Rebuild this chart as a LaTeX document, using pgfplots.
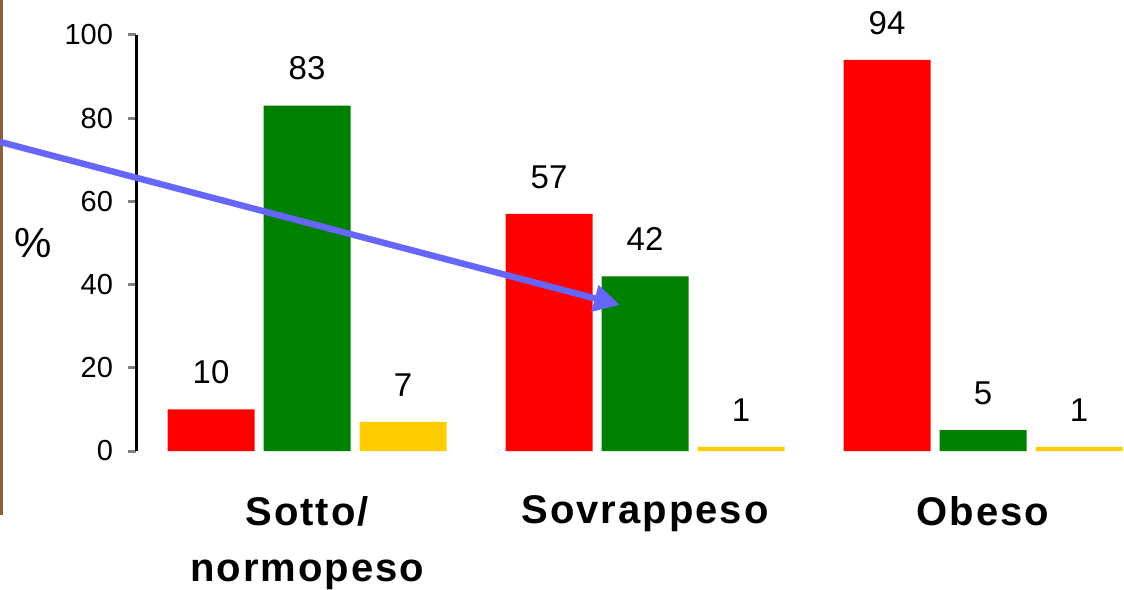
\documentclass[border=0pt]{standalone}
\usepackage{pgfplots}
\pgfplotsset{compat=1.18}
\usepackage{fontspec}
\setmainfont{Liberation Sans}
\usetikzlibrary{arrows.meta}
\definecolor{cred}{RGB}{255,0,0}
\definecolor{cgreen}{RGB}{0,128,0}
\definecolor{cyellow}{RGB}{255,204,0}
\definecolor{cblue}{RGB}{102,102,255}
\definecolor{cbrown}{RGB}{140,95,60}
\begin{document}
\begin{tikzpicture}
\path[use as bounding box] (0,0) rectangle (562pt,294.5pt);
\fill[cbrown] (0,37pt) rectangle (1.5pt,294.5pt);
\begin{axis}[
  at={(68pt,69pt)}, anchor=south west,
  scale only axis, width=494pt, height=208pt,
  xmin=-0.506, xmax=2.417, ymin=0, ymax=100,
  clip=false,
  axis y line=left, axis x line=bottom,
  y axis line style={-, line width=1.5pt},
  x axis line style={draw=none},
  ytick={0,20,40,60,80,100},
  tick align=outside, major tick length=4pt,
  ytick style={line width=1.5pt},
  xtick={0,1,2}, xtick style={draw=none},
  xticklabels={{Sotto/\\normopeso},Sovrappeso,Obeso},
  xticklabel style={align=center, font=\bfseries\fontsize{20}{28}\selectfont\addfontfeatures{LetterSpace=5}, yshift=-15pt},
  yticklabel style={font=\fontsize{14.5}{17}\selectfont, xshift=-4pt},
  /pgf/number format/assume math mode=true,
  ybar=4.5pt, bar width=43.5pt,
  nodes near coords,
  every node near coord/.append style={font=\fontsize{16.5}{19}\selectfont, anchor=south, inner sep=0pt, yshift=12.5pt},
]
\addplot[draw=none, fill=cred] coordinates {(0,10) (1,57) (2,94)};
\addplot[draw=none, fill=cgreen] coordinates {(0,83) (1,42) (2,5)};
\addplot[draw=none, fill=cyellow] coordinates {(0,7) (1,1) (2,1)};
\node[font=\fontsize{21}{24}\selectfont] at (rel axis cs:-0.104,0.5) {\%};
\draw[cblue, line width=3.2pt, -{Triangle[length=13pt,width=13pt]}] (axis cs:-0.908,74.3) -- (axis cs:0.926,35.1);
\end{axis}
\end{tikzpicture}
\end{document}
